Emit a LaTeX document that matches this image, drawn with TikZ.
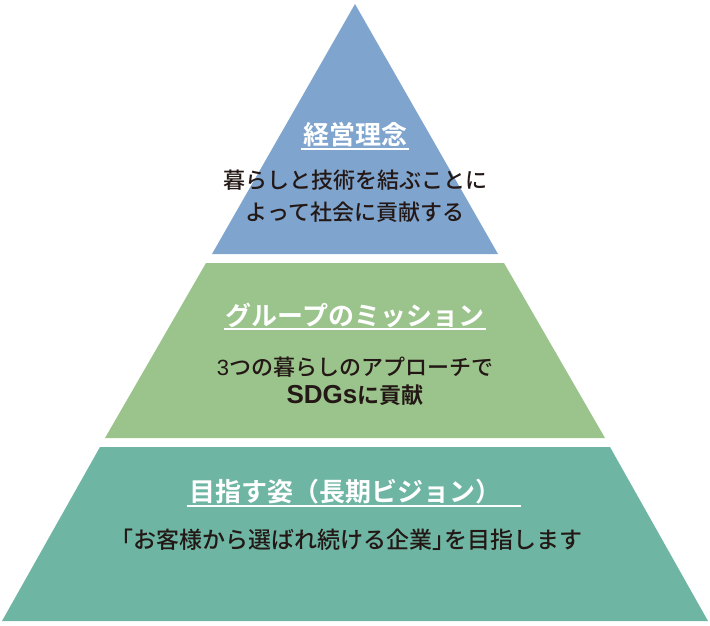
\documentclass[tikz,border=0pt]{standalone}
\usepackage{fontspec}
\setmainfont{Noto Sans CJK JP}[UprightFont=* Medium, BoldFont=* Bold]
\newfontfamily\paltfont{Noto Sans CJK JP}[UprightFont=* Medium, RawFeature=+palt]
\newfontfamily\latinfont{Liberation Sans}
\usepackage{xcolor}
\definecolor{philblue}{RGB}{127, 164, 206}
\definecolor{missiongreen}{RGB}{155, 195, 140}
\definecolor{visionteal}{RGB}{110, 182, 163}
\definecolor{inkdark}{RGB}{35, 24, 21}
\tikzset{
  tiertitle/.style={text=white, font=\bfseries\fontsize{26}{30}\selectfont, inner xsep=2pt, inner ysep=0pt},
  tierbody/.style={text=inkdark, font=\fontsize{22}{32}\selectfont, align=center, inner sep=0pt},
  uline/.style={white, line width=1.5pt},
}
\begin{document}
\begin{tikzpicture}[x=1pt, y=-1pt]
      \useasboundingbox (0,0) rectangle (710,626);
      \fill[philblue] (355,4) -- (498,254) -- (212,254) -- cycle;
      \fill[missiongreen] (206,263) -- (504,263) -- (605,438) -- (105,438) -- cycle;
      \fill[visionteal] (100,447) -- (610,447) -- (708,621) -- (2,621) -- cycle;
      \node[tiertitle] (philtitle) at (355,135) {経営理念};
      \draw[uline] ([yshift=-4pt]philtitle.base west) -- ([yshift=-4pt]philtitle.base east);
      \node[tierbody] (philbody) at (355,196) {暮らしと技術を結ぶことに\\よって社会に貢献する};
      \node[tiertitle] (missiontitle) at (355,315) {グループのミッション};
      \draw[uline] ([yshift=-4pt]missiontitle.base west) -- ([yshift=-4pt]missiontitle.base east);
      \node[tierbody, font=\fontsize{22}{28}\selectfont] (missionbody) at (355,381) {{\latinfont 3}つの暮らしのアプローチで\\\textbf{{\latinfont\fontsize{26}{28}\selectfont SDGs}に貢献}};
      \node[tiertitle] (visiontitle) at (345,492) {目指す姿（長期ビジョン）};
      \draw[uline] ([yshift=-4pt]visiontitle.base west) -- ([yshift=-4pt, xshift=18pt]visiontitle.base east);
      \node[tierbody, font=\fontsize{23}{32}\selectfont] (visionbody) at (352,540) {{\paltfont 「}お客様から選ばれ続ける企業{\paltfont 」}を目指します};
    \end{tikzpicture}
\end{document}
